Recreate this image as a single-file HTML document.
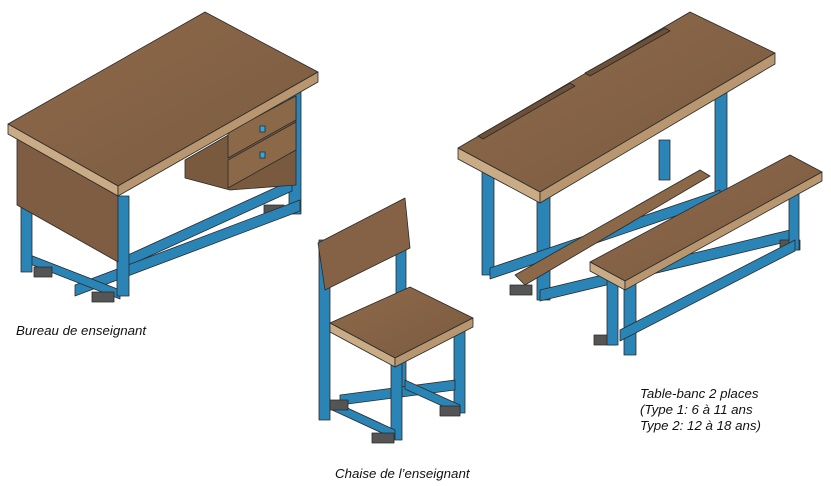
<!DOCTYPE html>
<html><head><meta charset="utf-8"><style>
html,body{margin:0;padding:0;background:#fff;}
svg{display:block}
text{font-family:"Liberation Sans",sans-serif;font-style:italic;font-size:13.3px;fill:#111}
</style></head><body>
<svg width="831" height="486" viewBox="0 0 831 486" xmlns="http://www.w3.org/2000/svg">
<defs>
<linearGradient id="wood" x1="0" y1="0" x2="1" y2="1"><stop offset="0" stop-color="#8f6a4b"/><stop offset="1" stop-color="#7a5a3f"/></linearGradient>
</defs>
<g stroke="#2a2a2a" stroke-width="0.8" stroke-linejoin="round">
<!-- ===== DESK ===== -->
<rect x="289" y="92" width="12" height="122" fill="#2b84b6"/>
<rect x="264" y="205" width="20" height="10" fill="#555"/>
<polygon points="128,255 292,180 292,191 128,266" fill="#2b84b6"/>
<polygon points="75,285 300,200 300,211 75,296" fill="#2b84b6"/>
<polygon points="30,255 120,290 120,299 30,264" fill="#2b84b6"/>
<rect x="21" y="200" width="11" height="72" fill="#2b84b6"/>
<rect x="34" y="267" width="18" height="10" fill="#555"/>
<rect x="117" y="196" width="12" height="100" fill="#2b84b6"/>
<rect x="92" y="292" width="22" height="10" fill="#555"/>
<polygon points="17,138 118,196 118,262 17,205" fill="#7e5d42"/>
<polygon points="185,160 296,96 296,185 230,190 185,178" fill="#7a5a3f"/>
<polygon points="228,132 296,96 296,120 228,158" fill="#8a6848"/>
<polygon points="228,160 296,122 296,150 228,188" fill="#8a6848"/>
<rect x="260" y="126" width="5" height="6" fill="#2fa6e0"/>
<rect x="260" y="152" width="5" height="6" fill="#2fa6e0"/>
<polygon points="8,124 205,12 318,72 118,186" fill="url(#wood)"/>
<polygon points="8,124 118,186 118,196 8,134" fill="#c9ab86"/>
<polygon points="118,186 318,72 318,82 118,196" fill="#b8966f"/>
<!-- ===== CHAIR ===== -->
<rect x="319" y="240" width="11" height="180" fill="#2b84b6"/>
<rect x="396" y="240" width="10" height="150" fill="#2b84b6"/>
<rect x="454" y="325" width="11" height="88" fill="#2b84b6"/>
<polygon points="340,395 455,380 455,390 340,405" fill="#2b84b6"/>
<polygon points="405,380 460,405 460,414 405,389" fill="#2b84b6"/>
<rect x="391" y="340" width="11" height="100" fill="#2b84b6"/>
<polygon points="330,400 395,430 395,439 330,409" fill="#2b84b6"/>
<rect x="330" y="400" width="18" height="10" fill="#555"/>
<rect x="372" y="433" width="22" height="10" fill="#555"/>
<rect x="440" y="406" width="20" height="10" fill="#555"/>
<polygon points="318,243 405,198 410,248 325,290" fill="#856246"/>
<polygon points="330,323 410,287 473,318 395,358" fill="url(#wood)"/>
<polygon points="330,323 395,358 395,367 330,332" fill="#c9ab86"/>
<polygon points="395,358 473,318 473,327 395,367" fill="#b8966f"/>
<!-- ===== TABLE-BANC ===== -->
<rect x="715" y="90" width="12" height="110" fill="#2b84b6"/>
<rect x="659" y="140" width="11" height="40" fill="#2b84b6"/>
<rect x="482" y="170" width="12" height="105" fill="#2b84b6"/>
<rect x="537" y="190" width="13" height="110" fill="#2b84b6"/>
<polygon points="490,268 720,190 720,201 490,279" fill="#2b84b6"/>
<polygon points="540,290 790,230 790,241 540,301" fill="#2b84b6"/>
<rect x="510" y="285" width="22" height="10" fill="#555"/>
<rect x="594" y="335" width="22" height="10" fill="#555"/>
<rect x="780" y="240" width="20" height="10" fill="#555"/>
<polygon points="515,275 700,170 710,176 525,285" fill="#8a6848"/>
<rect x="607" y="270" width="11" height="75" fill="#2b84b6"/>
<rect x="624" y="280" width="12" height="75" fill="#2b84b6"/>
<rect x="789" y="170" width="10" height="80" fill="#2b84b6"/>
<polygon points="620,330 795,240 795,251 620,341" fill="#2b84b6"/>
<polygon points="458,148 690,12 775,53 540,192" fill="url(#wood)"/>
<polygon points="458,148 540,192 540,203 458,159" fill="#c9ab86"/>
<polygon points="540,192 775,53 775,64 540,203" fill="#b8966f"/>
<polygon points="478,136 570,83 575,86 483,139" fill="#6e5038"/>
<polygon points="585,73 665,28 670,31 590,76" fill="#6e5038"/>
<polygon points="590,262 790,155 822,172 625,281" fill="url(#wood)"/>
<polygon points="590,262 625,281 625,290 590,271" fill="#c9ab86"/>
<polygon points="625,281 822,172 822,181 625,290" fill="#b8966f"/>
</g>
<text x="16" y="335">Bureau de enseignant</text>
<text x="335" y="478">Chaise de l’enseignant</text>
<text x="640" y="398">Table-banc 2 places</text>
<text x="640" y="414">(Type 1: 6 à 11 ans</text>
<text x="640" y="430">Type 2: 12 à 18 ans)</text>
</svg>
</body></html>
